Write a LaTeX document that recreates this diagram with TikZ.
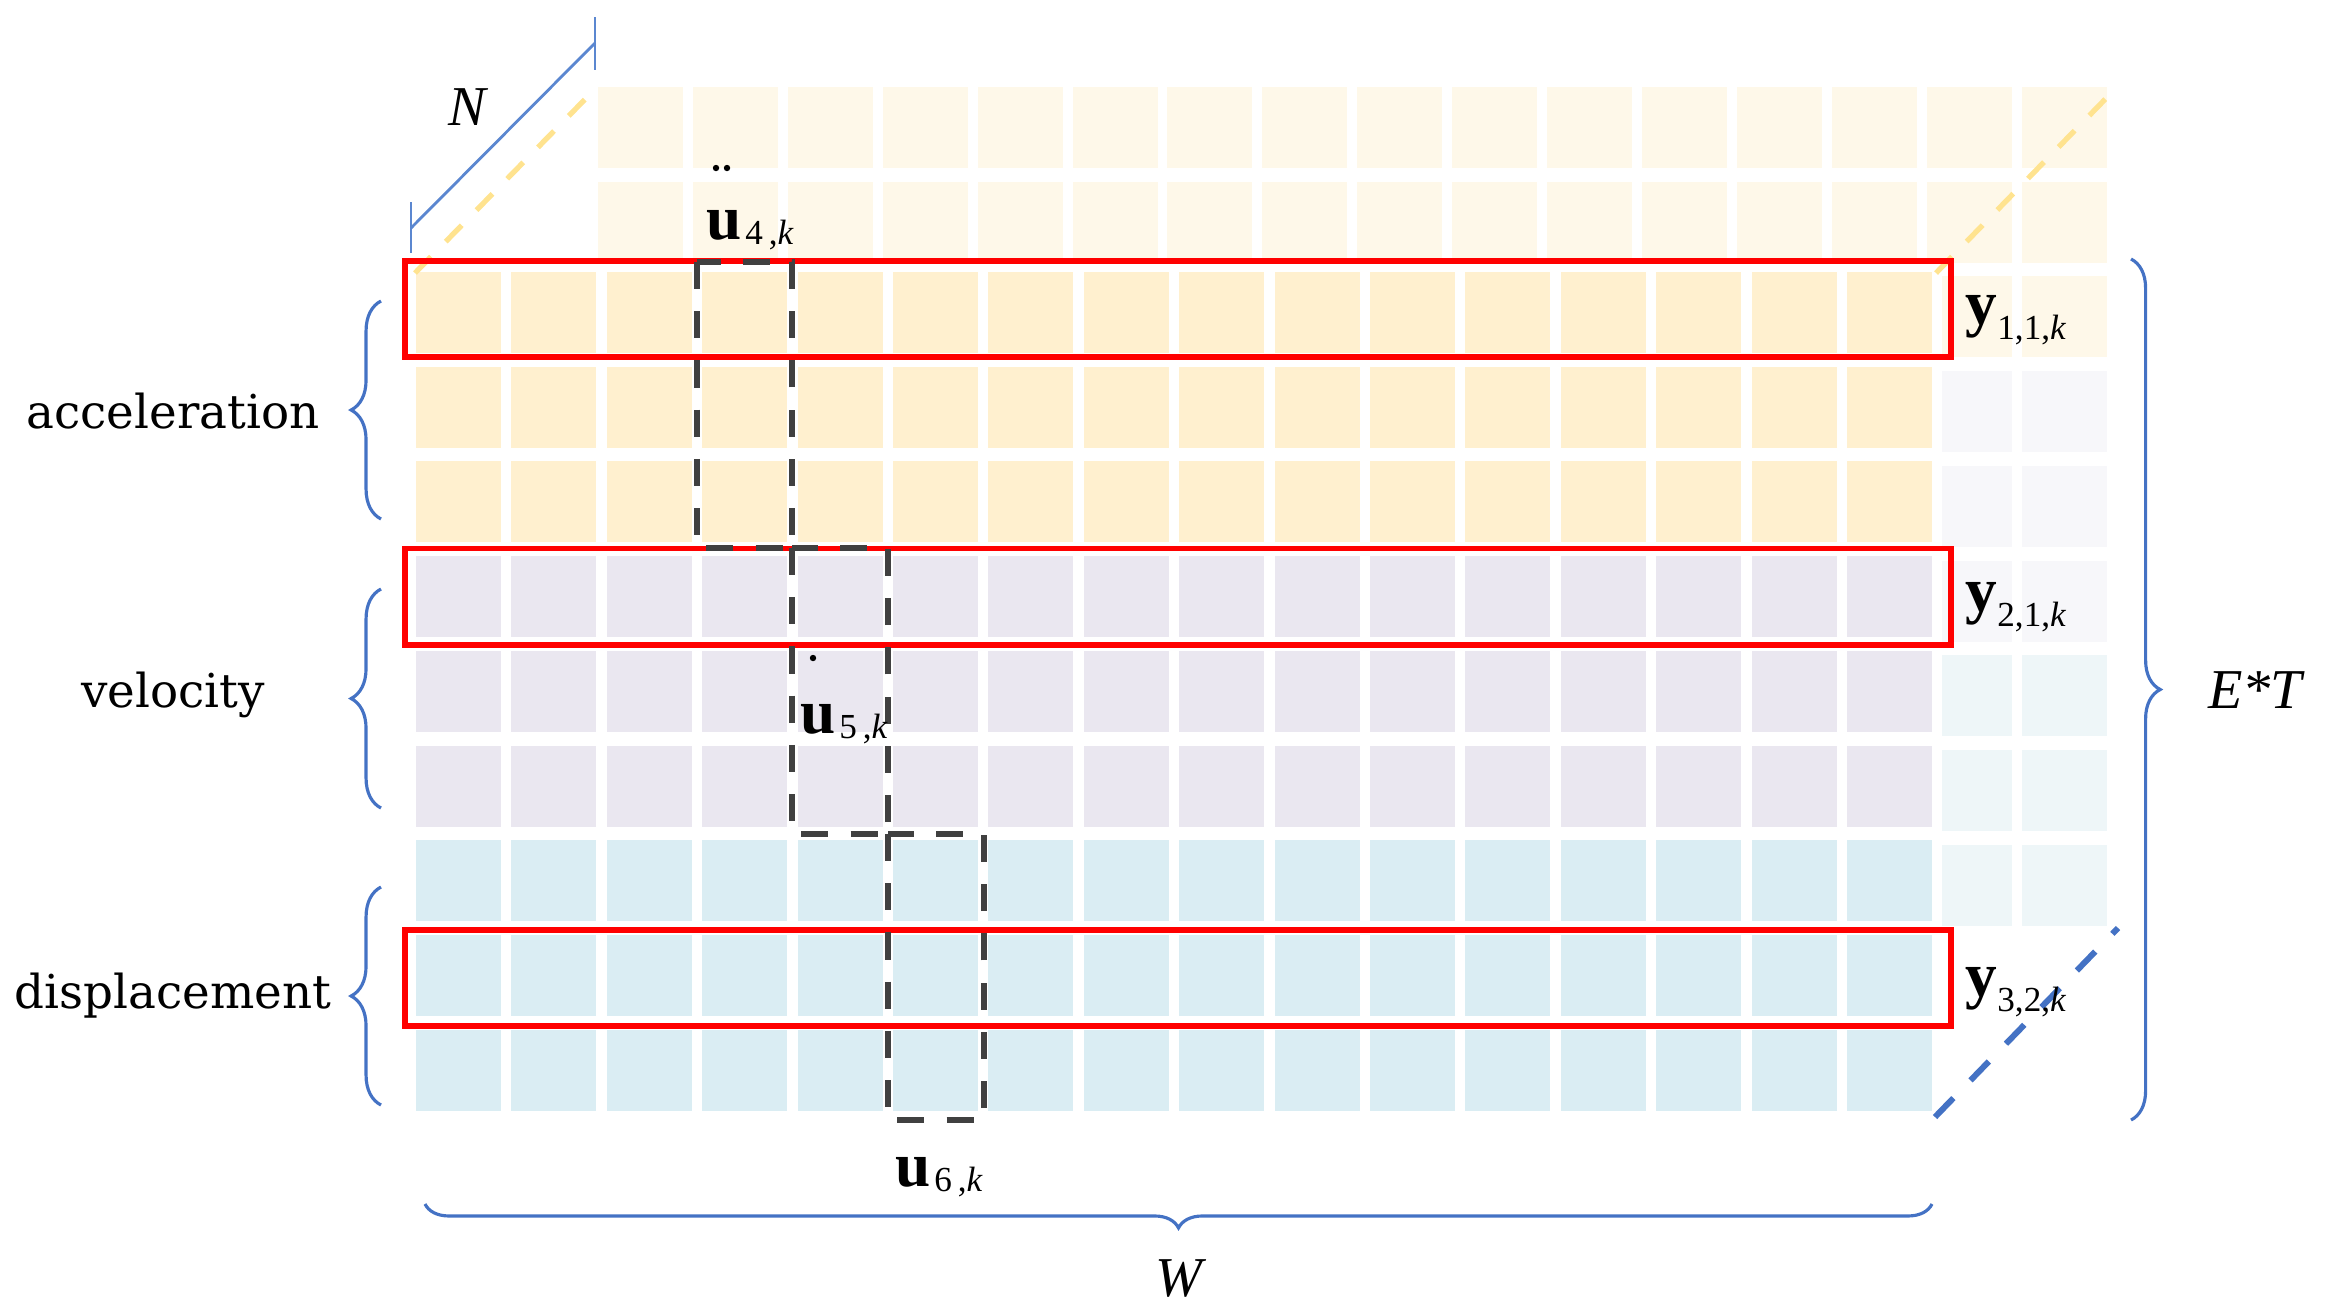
\documentclass[tikz,border=0pt]{standalone}
\usepackage{fontspec}
\setmainfont{Liberation Serif}
\newfontfamily\catfont{DejaVu Serif}
\usetikzlibrary{decorations.pathreplacing}
\definecolor{fyl}{HTML}{FFF0CF}
\definecolor{fgr}{HTML}{EAE7F0}
\definecolor{fbl}{HTML}{DAEDF3}
\definecolor{byl}{HTML}{FEF8E9}
\definecolor{bgr}{HTML}{F7F7FA}
\definecolor{bbl}{HTML}{EEF6F8}
\definecolor{redc}{HTML}{FF0000}
\definecolor{dgc}{HTML}{404040}
\definecolor{blc}{HTML}{4472C4}
\definecolor{nlc}{HTML}{5B87D0}
\definecolor{ylc}{HTML}{FFE38F}
\newcommand{\subA}[1]{\raisebox{-4.5pt}{\fontsize{10}{12}\selectfont\mdseries #1}}
\newcommand{\subB}[1]{\raisebox{-1.5pt}{\fontsize{10}{12}\selectfont\mdseries #1}}
\begin{document}
\begin{tikzpicture}[x=0.01cm,y=-0.01cm,
  redbox/.style={draw=redc, line width=1.7pt, minimum width=15.46cm, minimum height=0.96cm, inner sep=0pt},
  ubox/.style={draw=dgc, line width=1.45pt, dash pattern=on 7.7pt off 6.3pt},
  ydash/.style={draw=ylc, line width=1.5pt, dash pattern=on 6.5pt off 6pt},
  bdash/.style={draw=blc, line width=1.7pt, dash pattern=on 7.5pt off 7pt},
  brc/.style={draw=blc, line width=0.9pt, decorate, decoration={brace, amplitude=#1}},
  nline/.style={draw=nlc, line width=0.8pt},
  accdot/.style={fill=black, draw=none},
  catlbl/.style={font=\catfont\fontsize{13.3}{16}\selectfont, inner sep=0pt},
  dimlbl/.style={font=\itshape\fontsize{16}{18}\selectfont, inner sep=0pt},
  vlbl/.style={font=\bfseries\fontsize{18}{20}\selectfont, inner sep=0pt, anchor=base west},
]
\useasboundingbox (0,0) rectangle (2325,1314);
% back plane
\foreach \r/\clr in {0/byl,1/byl,2/byl,3/bgr,4/bgr,5/bgr,6/bbl,7/bbl,8/bbl}
  \foreach \c in {0,...,15}
    \fill[\clr] ({598+94.9*\c},{87+94.7*\r}) rectangle ++(85,81);
% front plane
\fill[white] (406,263) rectangle (1942,1122);
\foreach \r/\clr in {0/fyl,1/fyl,2/fyl,3/fgr,4/fgr,5/fgr,6/fbl,7/fbl,8/fbl}
  \foreach \c in {0,...,15}
    \fill[\clr] ({416+95.4*\c},{272+94.7*\r}) rectangle ++(85,81);
% depth edges
\coordinate (ftl) at (415,273);
\coordinate (btl) at (598,86);
\coordinate (ftr) at (1936,273);
\coordinate (btr) at (2118,86);
\coordinate (fbr) at (1935,1117);
\coordinate (bbr) at (2118,928);
\draw[ydash] (ftl) -- (btl);
\draw[ydash] (ftr) -- (btr);
\draw[bdash] (fbr) -- (bbr);
% red boxes
\node[redbox] (r1) at (1178,309) {};
\node[redbox] (r2) at (1178,596.5) {};
\node[redbox] (r3) at (1178,978) {};
% dashed column boxes
\draw[ubox] (697,262) rectangle (792,548);
\draw[ubox] (792,548) rectangle (888,834);
\draw[ubox] (888,834) rectangle (984,1120);
% labels
\node[vlbl] (y1) at (1965,324) {y\subA{1,1,\textit{k}}};
\node[vlbl] (y2) at (1965,611) {y\subA{2,1,\textit{k}}};
\node[vlbl] (y3) at (1965,996) {y\subA{3,2,\textit{k}}};
\node[vlbl] (u4) at (706,239) {u\kern1pt\subB{4\,,\textit{k}}};
\node[vlbl] (u5) at (800,733) {u\kern1pt\subB{5\,,\textit{k}}};
\node[vlbl] (u6) at (895,1186) {u\kern1pt\subB{6\,,\textit{k}}};
\fill[accdot] (716,168) circle (3.2);
\fill[accdot] (727,168) circle (3.2);
\fill[accdot] (813,658) circle (3.2);
\node[catlbl] (acc) at (173,411) {acceleration};
\node[catlbl] (vel) at (173,695) {velocity};
\node[catlbl] (dis) at (173,996) {displacement};
\node[dimlbl] (nl) at (467,107) {N};
\node[dimlbl] (wl) at (1179,1278) {W};
\node[dimlbl] (el) at (2255,690) {E*T};
% braces
\coordinate (ab) at (381,519); \coordinate (at) at (381,301);
\coordinate (vb) at (381,808); \coordinate (vt) at (381,589);
\coordinate (db) at (381,1105); \coordinate (dt) at (381,887);
\draw[brc=8.5pt] (ab) -- (at);
\draw[brc=8.5pt] (vb) -- (vt);
\draw[brc=8.5pt] (db) -- (dt);
\coordinate (et) at (2131,259); \coordinate (eb) at (2131,1120);
\draw[brc=8.3pt] (et) -- (eb);
\coordinate (wr) at (1932,1204); \coordinate (wlft) at (425,1204);
\draw[brc=6.8pt] (wr) -- (wlft);
% N dimension
\coordinate (n1) at (411,228);
\coordinate (n2) at (595,43);
\draw[nline] (n1) -- (n2);
\draw[nline] (411,202) -- (411,253);
\draw[nline] (595,17) -- (595,70);
\end{tikzpicture}
\end{document}
